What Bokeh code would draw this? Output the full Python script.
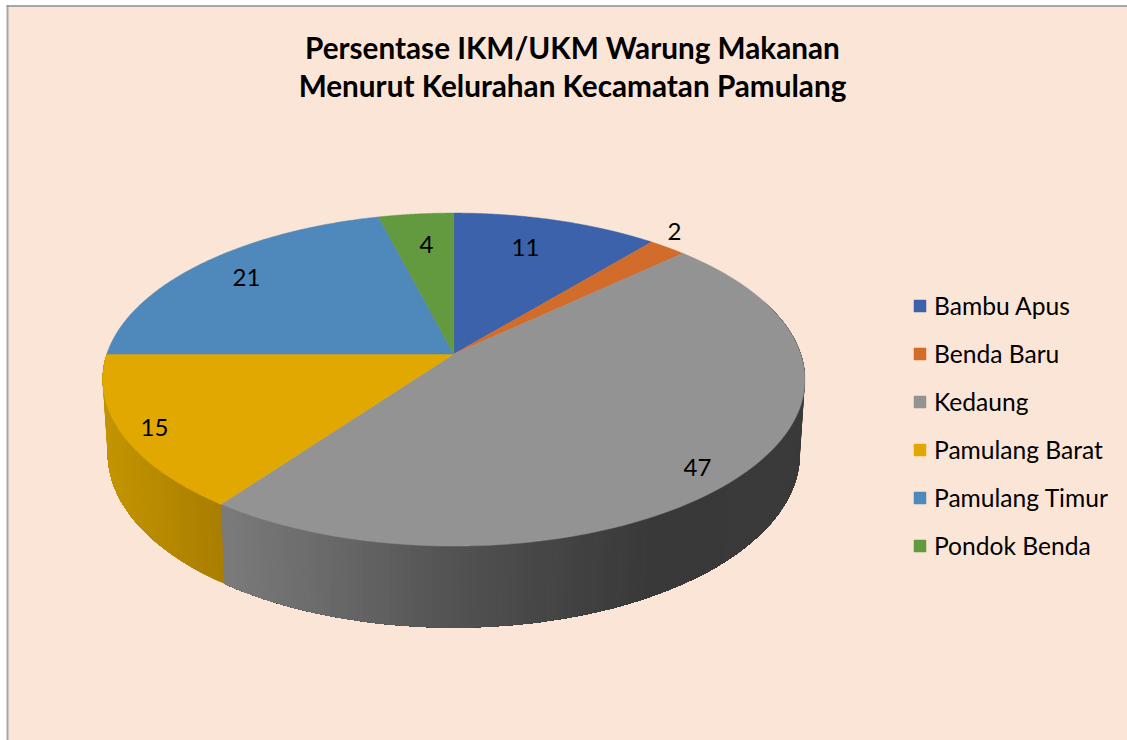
import numpy as np
from bokeh.core.properties import value
from bokeh.embed import file_html
from bokeh.models import Legend, LegendItem, Range1d
from bokeh.plotting import figure
from bokeh.resources import INLINE

# ---- data
categories = ["Bambu Apus", "Benda Baru", "Kedaung", "Pamulang Barat", "Pamulang Timur", "Pondok Benda"]
values = [11, 2, 47, 15, 21, 4]
title_lines = ["Persentase IKM/UKM Warung Makanan", "Menurut Kelurahan Kecamatan Pamulang"]

# ---- styles
top_colors = ["#3C62AC", "#D26C2B", "#939393", "#E0A800", "#4F88BB", "#63993F"]
wall_stops = {2: ([226, 340, 454, 560, 650, 805], ["#7A7A7A", "#676767", "#525252", "#444444", "#393939", "#3A3A3A"]),
              3: ([105, 226], ["#C39400", "#A87C00"])}
BG = "#FBE5D6"

# ---- layout
W, H = 1127, 740
CX = 453.3
TOP = dict(cy=353.6, a=347, b=162.6)
BOT = dict(cy=426.4, a=342, b=170)
K = 0.153
label_x = [525, 674, 697, 154, 246, 426]
label_y = [247, 231, 467, 427, 277, 244]
title_y = [47, 85]


def rim(theta, cy, a, b):
    """Perspective projection of the pie's circle; theta clockwise from 12 o'clock."""
    u, v = np.sin(theta), np.cos(theta)
    w = 1 + K * v
    return CX + a * u / w, cy - b * v / w


def hex2rgb(c):
    return np.array([int(c[i:i + 2], 16) for i in (1, 3, 5)], dtype=float)


def wall_color(x, stops):
    xs, cols = stops
    rgb = np.array([hex2rgb(c) for c in cols])
    r = [np.interp(x, xs, rgb[:, i]) for i in range(3)]
    return "#%02x%02x%02x" % tuple(int(round(q)) for q in r)


p = figure(width=W, height=H, x_range=Range1d(0, W), y_range=Range1d(H, 0),
           output_backend="svg", toolbar_location=None, min_border=0,
           background_fill_color="#FFFFFF", border_fill_color="#FFFFFF", outline_line_color=None)
p.axis.visible = False
p.grid.visible = False

# chart area with its frame (only left and top edges are in the picture)
p.quad(left=7, right=W, top=5.5, bottom=H, fill_color=BG, line_color=None)
p.line([7, 7], [5, H], line_color="#A6A6A6", line_width=2)
p.line([6, W], [5.5, 5.5], line_color="#8C8C8C", line_width=1.5)

edges = np.cumsum([0] + values) / sum(values) * 2 * np.pi

# side walls: painted from the first strip on, each one reaching to the slice's end, so no seams show
for i, stops in wall_stops.items():
    a0, a1 = max(edges[i], np.radians(70)), edges[i + 1]
    t = np.append(np.arange(a0, a1, np.radians(1.0)), a1)
    xs, ys, cs = [], [], []
    for j in range(len(t) - 1):
        seg = t[j:]
        xa, ya = rim(seg, TOP["cy"], TOP["a"], TOP["b"])
        xb, yb = rim(seg[::-1], BOT["cy"], BOT["a"], BOT["b"])
        xs.append(list(xa) + list(xb))
        ys.append(list(ya) + list(yb))
        cs.append(wall_color((xa[0] + xa[1]) / 2, stops))
    p.patches(xs, ys, fill_color=cs, line_color=None)

# top faces
items = []
for i, cat in enumerate(categories):
    t = np.linspace(edges[i], edges[i + 1], 120)
    x, y = rim(t, TOP["cy"], TOP["a"], TOP["b"])
    r = p.patch(np.r_[CX, x], np.r_[TOP["cy"], y], fill_color=top_colors[i],
                line_color=top_colors[i], line_width=0.5)
    items.append(LegendItem(label=cat, renderers=[r]))

# data labels
p.text(label_x, label_y, text=[str(v) for v in values], text_font=value("Lato"), text_font_size="24px",
       text_color="#000000", text_align="center", text_baseline="middle")

# title
p.text([572, 572], title_y, text=title_lines, text_font=value("Lato"), text_font_style="bold",
       text_font_size="29.7px", text_color="#000000", text_align="center", text_baseline="middle")

legend = Legend(items=items, location=(912, 180), orientation="vertical",
                glyph_width=15, glyph_height=15, label_standoff=7, spacing=19,
                padding=0, margin=0, border_line_color=None, background_fill_alpha=0,
                label_text_font="Lato", label_text_font_size="24.6px", label_text_color="#000000",
                label_height=29)
p.add_layout(legend)

open("out.html", "w").write(file_html(p, INLINE))
